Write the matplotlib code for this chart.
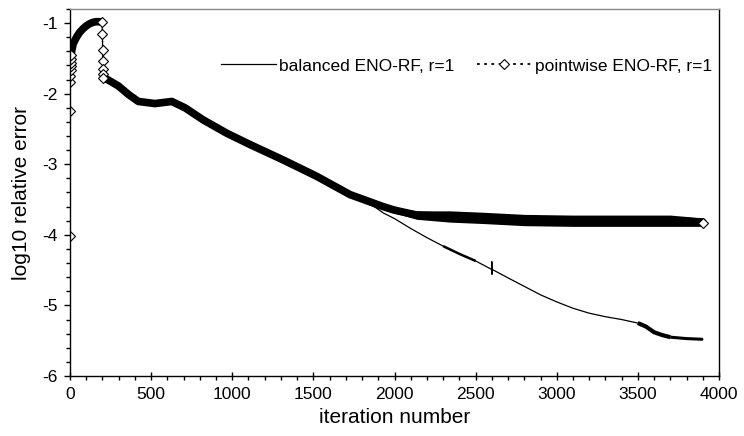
import numpy as np
import matplotlib
matplotlib.use("Agg")
import matplotlib.pyplot as plt
from matplotlib.lines import Line2D
from matplotlib.ticker import MultipleLocator

plt.rcParams['font.family'] = ['Liberation Sans', 'DejaVu Sans']
plt.rcParams['axes.unicode_minus'] = False

# pointwise ENO-RF: start-up jump (diamonds), then the dense band of markers
pw_start_iter = [0, 1, 2, 3, 4, 5, 6, 7, 8]
pw_start_err = [-4.02, -2.24, -1.83, -1.745, -1.67, -1.61, -1.56, -1.51, -1.45]

pw_rise_iter = [8, 20, 40, 60, 80, 100, 120, 140, 160, 180, 198]
pw_rise_err = [-1.42, -1.29, -1.2, -1.13, -1.08, -1.04, -1.01, -0.99, -0.98, -0.98, -0.99]

pw_drop_iter = [198, 200, 201, 202, 203, 204, 205]
pw_drop_err = [-0.99, -1.16, -1.38, -1.54, -1.65, -1.72, -1.78]

pw_band_iter = [205, 216, 298, 360, 421, 524, 627, 709, 820, 966, 1109, 1315,
                1520, 1726, 1930, 2000, 2137, 2342, 2548, 2800, 3100, 3400,
                3700, 3900]
pw_band_err = [-1.78, -1.78, -1.89, -2.01, -2.11, -2.14, -2.11, -2.2, -2.37,
               -2.56, -2.72, -2.94, -3.17, -3.43, -3.6, -3.65, -3.72, -3.74,
               -3.76, -3.79, -3.8, -3.8, -3.8, -3.82]
# extra half-width of the ragged band where the markers scatter
pw_band_spread = [0, 0, 0, 0, 0, 0, 0, 0, 0, 0, 0, 0,
                  0, 0, 0.02, 0.04, 0.06, 0.08, 0.08, 0.08, 0.08, 0.08, 0.08, 0.06]

pw_end_iter = [3900]
pw_end_err = [-3.83]

# balanced ENO-RF (thin solid line)
bal_iter = [0, 20, 40, 60, 80, 100, 120, 140, 160, 180, 198, 205, 216, 298,
            360, 421, 524, 627, 709, 820, 966, 1109, 1315, 1520, 1726, 1850,
            1931, 2000, 2100, 2200, 2300, 2400, 2500, 2599, 2600, 2601, 2602,
            2700, 2800, 2900, 3000, 3100, 3200, 3300, 3400, 3500, 3550, 3600,
            3650, 3700, 3800, 3900]
bal_err = [-1.42, -1.29, -1.2, -1.13, -1.08, -1.04, -1.01, -0.99, -0.98, -0.98,
           -0.99, -1.78, -1.78, -1.89, -2.01, -2.11, -2.14, -2.11, -2.2, -2.37,
           -2.56, -2.72, -2.94, -3.17, -3.43, -3.56, -3.69, -3.77, -3.91,
           -4.04, -4.16, -4.27, -4.37, -4.49, -4.38, -4.56, -4.49, -4.61,
           -4.73, -4.85, -4.95, -5.04, -5.11, -5.16, -5.2, -5.25, -5.3, -5.38,
           -5.42, -5.45, -5.47, -5.48]

fig = plt.figure(figsize=(7.44, 4.36), dpi=100)
ax = fig.add_axes([70 / 744, 1 - 376 / 436, 649 / 744, 367 / 436])

# balanced
bx = np.array(bal_iter)
by = np.array(bal_err)
ax.plot(bx, by, color='black', lw=0.9)
for lo, hi, w in [(2300, 2500, 1.8), (3450, 3700, 3.0), (3700, 3900, 2.2)]:
    m = (bx >= lo) & (bx <= hi)
    ax.plot(bx[m], by[m], color='black', lw=w, solid_capstyle='butt')

# pointwise band
ax.plot(pw_rise_iter, pw_rise_err, color='black', lw=5.5, solid_capstyle='round')
ax.plot(pw_band_iter, pw_band_err, color='black', lw=5.5, solid_capstyle='round')
py = np.array(pw_band_err)
ps = np.array(pw_band_spread)
ax.fill_between(pw_band_iter, py - ps, py + ps, color='black', lw=0)

# pointwise diamonds joined by dotted line
mk = dict(color='black', ls=':', lw=1, marker='D', markersize=5,
          markerfacecolor='white', markeredgecolor='black', markeredgewidth=0.8)
ax.plot(pw_start_iter, pw_start_err, **mk)
ax.plot(pw_drop_iter, pw_drop_err, **mk)
ax.plot(pw_end_iter, pw_end_err, **mk)

ax.set_xlim(0, 4000)
ax.set_ylim(-6, -0.8)
ax.xaxis.set_major_locator(MultipleLocator(500))
ax.xaxis.set_minor_locator(MultipleLocator(100))
ax.yaxis.set_major_locator(MultipleLocator(1))
ax.yaxis.set_minor_locator(MultipleLocator(0.2))
ax.tick_params(which='major', direction='inout', length=6, width=1, labelsize=12.5, pad=5)
ax.tick_params(which='minor', direction='out', length=3, width=1)
ax.tick_params(axis='y', which='major', direction='out', length=4)
ax.spines['top'].set_color('#888888')
ax.spines['top'].set_linewidth(1)
for s in ['left', 'bottom', 'right']:
    ax.spines[s].set_linewidth(1)

ax.set_xlabel('iteration number', fontsize=15, labelpad=4)
ax.set_ylabel('log10 relative error', fontsize=15, labelpad=8)

handles = [
    Line2D([], [], color='black', lw=0.9),
    Line2D([], [], color='black', ls=(0, (1.5, 2.5)), lw=1.3, marker='D', markersize=5,
           markerfacecolor='white', markeredgecolor='black', markeredgewidth=0.8),
]
ax.legend(handles, ['balanced ENO-RF, r=1', 'pointwise ENO-RF, r=1'],
          loc='center right', bbox_to_anchor=((712 - 70) / 649, (376 - 66) / 367),
          ncol=2, frameon=False, borderpad=0, borderaxespad=0,
          fontsize=12.5, handlelength=3.2, handletextpad=0.15, columnspacing=1.3,
          numpoints=1)

fig.savefig('out.png', dpi=100)
